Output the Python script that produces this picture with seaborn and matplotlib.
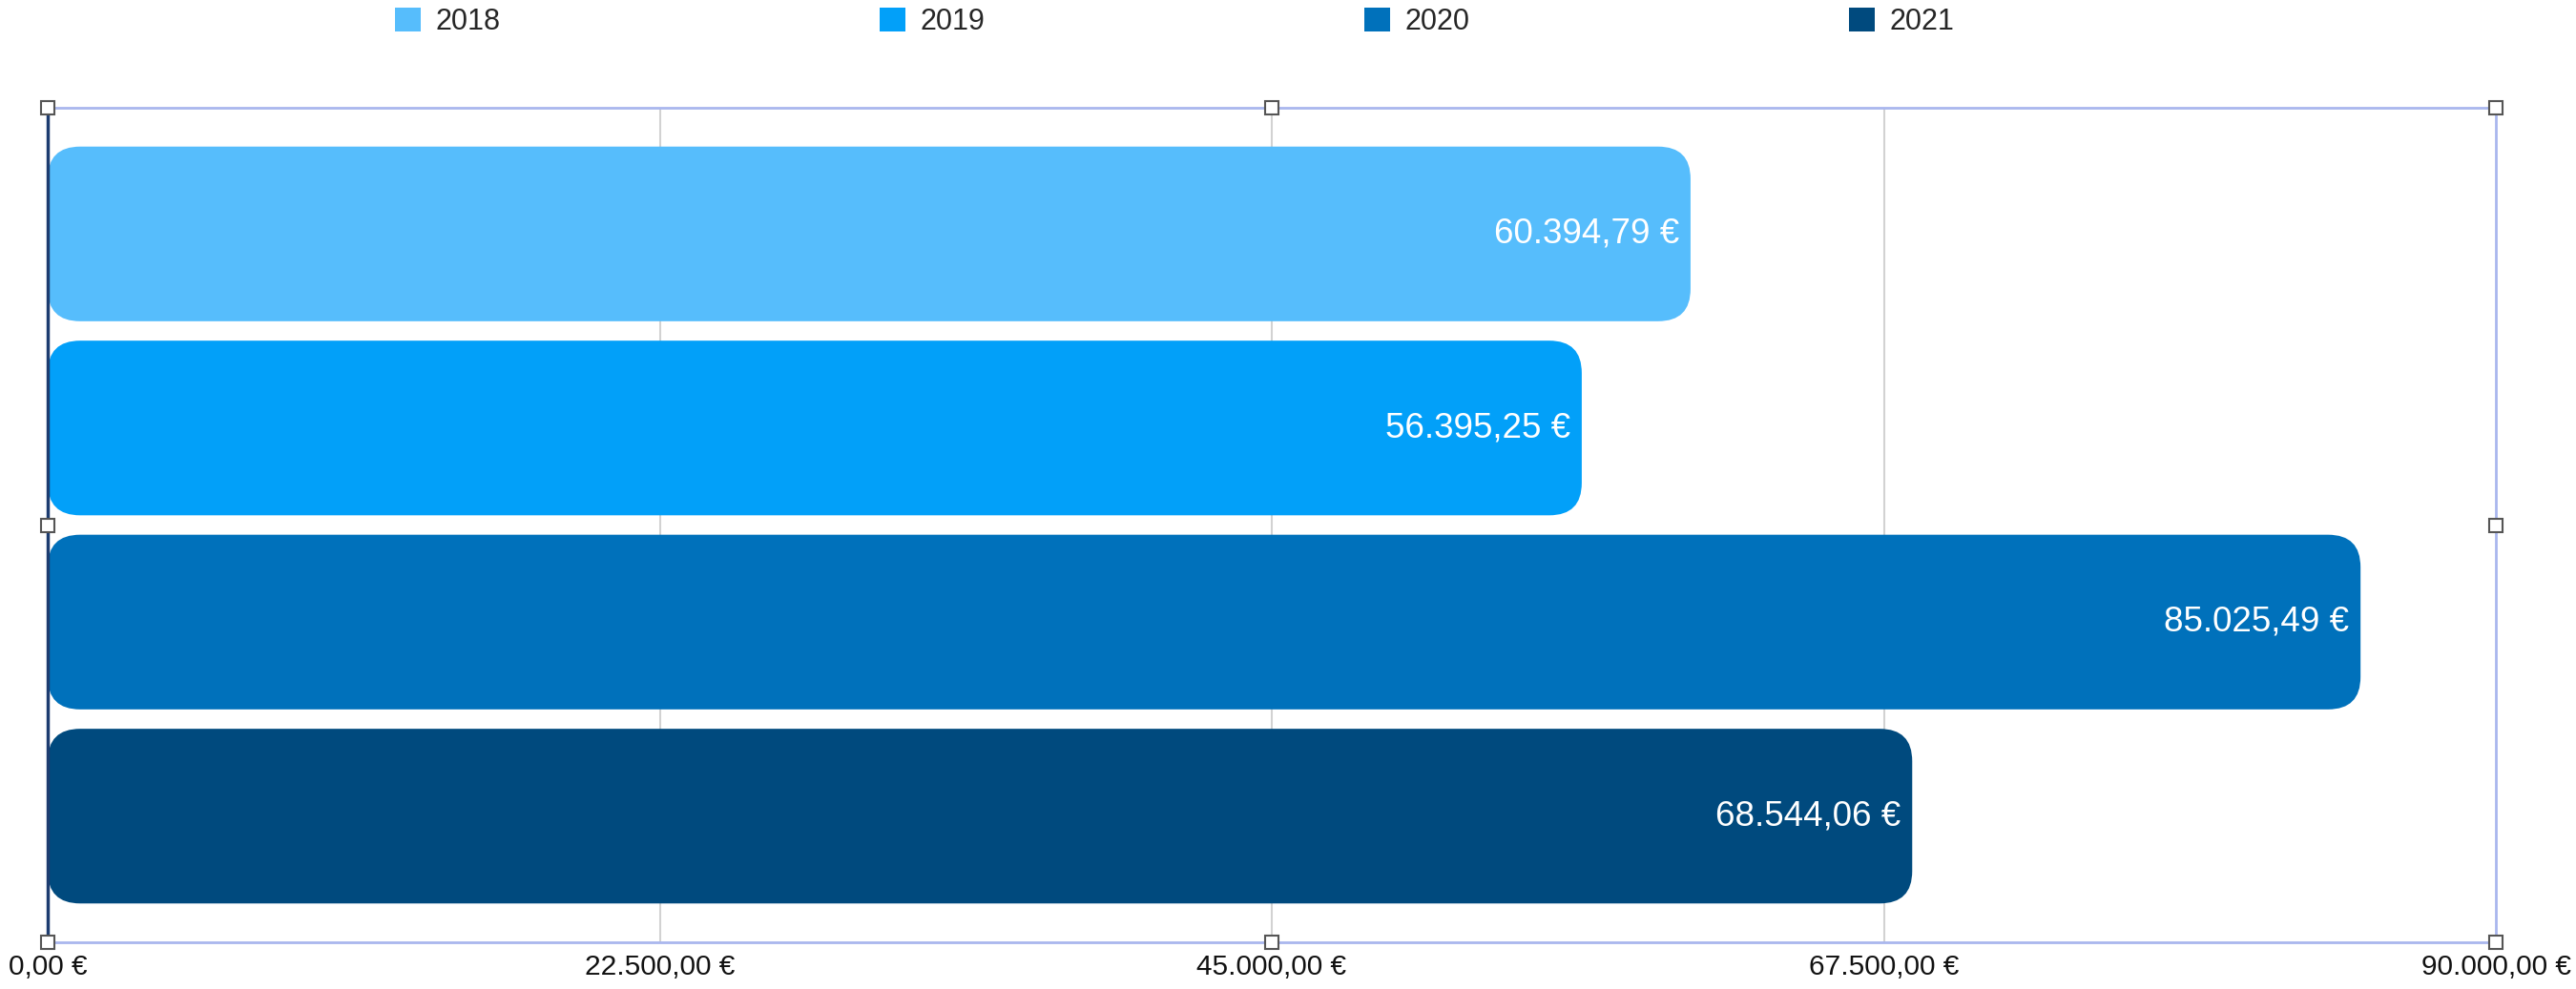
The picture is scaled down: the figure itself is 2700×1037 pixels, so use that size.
import numpy as np
import pandas as pd
import matplotlib
matplotlib.use("Agg")
import matplotlib.pyplot as plt
import seaborn as sns
from matplotlib.patches import FancyBboxPatch, Patch
from matplotlib.ticker import FuncFormatter

sns.set_theme(style="white")
plt.rcParams['font.family'] = ['Liberation Sans', 'DejaVu Sans']

years = ["2018", "2019", "2020", "2021"]
amounts = [60394.79, 56395.25, 85025.49, 68544.06]
bar_colors = ["#56bdfc", "#02a0f9", "#0071bb", "#004a7e"]
x_ticks = [0, 22500, 45000, 67500, 90000]


def euro(v, pos=None):
    s = "{:,.2f}".format(v).replace(",", "X").replace(".", ",").replace("X", ".")
    return s + " €"


df = pd.DataFrame({"year": years, "amount": amounts})

fig = plt.figure(figsize=(27, 10.37), dpi=100)
ax = fig.add_axes([50 / 2700, 1 - 988 / 1037, 2566 / 2700, 875 / 1037])

sns.barplot(data=df, x="amount", y="year", hue="year", palette=bar_colors,
            order=years, hue_order=years, width=0.9, orient="h",
            legend=False, ax=ax, saturation=1)

ax.set_xlim(0, 90000)
ax.set_ylim(3.65, -0.65)
ax.set_xticks(x_ticks)
ax.xaxis.set_major_formatter(FuncFormatter(euro))
ax.set_yticks([])
ax.set_xlabel("")
ax.set_ylabel("")
ax.tick_params(axis="x", labelsize=21.5, colors="#111111", length=0, pad=9)

# gridlines
for t in x_ticks[1:-1]:
    ax.axvline(t, color="#d2d2d2", lw=1.5, zorder=0)

# frame like the selection box
for side in ["top", "bottom", "right"]:
    ax.spines[side].set_color("#a9b7ee")
    ax.spines[side].set_linewidth(2)
ax.spines["left"].set_color("#1d3c70")
ax.spines["left"].set_linewidth(2.5)

# replace rectangles with rounded ones
fig.canvas.draw()
px_x = ax.transData.transform((1000, 0))[0] - ax.transData.transform((0, 0))[0]
px_y = abs(ax.transData.transform((0, 1))[1] - ax.transData.transform((0, 0))[1])
r_px = 34
r_x = r_px / px_x * 1000
r_y = r_px / px_y
for bar in list(ax.patches):
    x0, y0 = bar.get_x(), bar.get_y()
    w, h = bar.get_width(), bar.get_height()
    rb = FancyBboxPatch((x0, y0), w, h,
                        boxstyle="round,pad=0,rounding_size=%f" % r_x,
                        mutation_aspect=r_y / r_x,
                        facecolor=bar.get_facecolor(), edgecolor="none", zorder=2)
    bar.remove()
    ax.add_patch(rb)
    ax.text(x0 + w - 12 / px_x * 1000, y0 + h / 2, euro(w), color="white",
            fontsize=26.5, ha="right", va="center", zorder=3)

# selection handles
hx = [0, 0.5, 1, 0, 1, 0, 0.5, 1]
hy = [1, 1, 1, 0.5, 0.5, 0, 0, 0]
ax.plot(hx, hy, "s", transform=ax.transAxes, ms=10, mfc="white",
        mec="#555555", mew=1.5, clip_on=False, zorder=5)

handles = [Patch(facecolor=c, edgecolor="none") for c in bar_colors]
fig.legend(handles, years, loc="center", bbox_to_anchor=(0.456, 0.978),
           ncol=4, frameon=False, fontsize=22, handlelength=0.9,
           handleheight=0.9, handletextpad=0.5, columnspacing=13.0)

fig.savefig("out.png", dpi=100, facecolor="white")
